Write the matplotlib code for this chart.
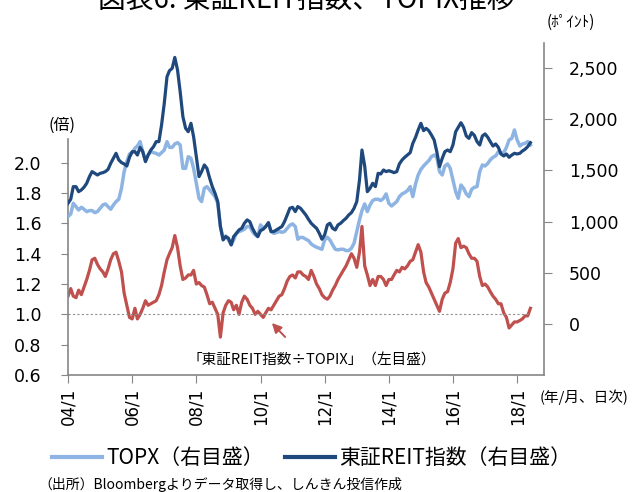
import pandas as pd
import matplotlib
matplotlib.use('Agg')
import matplotlib.pyplot as plt
from matplotlib.lines import Line2D

# monthly readings, Jan 2004 - Jun 2018
reit = [1178, 1218, 1341, 1341, 1292, 1309, 1335, 1374, 1439, 1488, 1471, 1455,
        1471, 1478, 1488, 1510, 1569, 1618, 1667, 1602, 1576, 1563, 1543, 1628,
        1683, 1683, 1650, 1725, 1683, 1585, 1650, 1699, 1732, 1781, 1781, 1943,
        2155, 2415, 2474, 2497, 2604, 2481, 2269, 2025, 1911, 1878, 1960, 1829,
        1634, 1439, 1488, 1553, 1520, 1423, 1341, 1276, 1195, 951, 820, 853,
        837, 772, 853, 885, 918, 934, 983, 1016, 999, 934, 885, 853,
        911, 925, 951, 990, 902, 902, 918, 934, 951, 999, 1064, 1130,
        1139, 1097, 1146, 1130, 1097, 1064, 1022, 983, 957, 934, 885, 827,
        869, 967, 983, 934, 918, 967, 983, 1009, 1032, 1064, 1087, 1130,
        1195, 1406, 1699, 1543, 1292, 1325, 1374, 1341, 1471, 1465, 1504, 1488,
        1497, 1488, 1478, 1488, 1563, 1602, 1628, 1650, 1673, 1764, 1823, 1895,
        1960, 1888, 1911, 1888, 1846, 1797, 1683, 1536, 1618, 1683, 1699, 1683,
        1748, 1878, 1921, 1966, 1921, 1836, 1813, 1869, 1842, 1781, 1748, 1836,
        1856, 1823, 1781, 1738, 1758, 1725, 1660, 1641, 1660, 1628, 1650, 1667,
        1660, 1667, 1689, 1706, 1732, 1771]

topix = [1048, 1074, 1178, 1146, 1113, 1139, 1120, 1097, 1107, 1107, 1087, 1097,
         1130, 1162, 1172, 1146, 1120, 1162, 1195, 1218, 1325, 1488, 1585, 1660,
         1673, 1716, 1738, 1781, 1683, 1595, 1650, 1683, 1673, 1667, 1650, 1673,
         1699, 1781, 1725, 1725, 1758, 1771, 1748, 1520, 1520, 1634, 1618, 1520,
         1374, 1227, 1195, 1325, 1341, 1309, 1276, 1243, 1178, 951, 837, 859,
         820, 772, 820, 885, 902, 911, 925, 951, 951, 902, 869, 853,
         967, 934, 951, 983, 902, 885, 892, 902, 895, 902, 934, 964,
         977, 951, 827, 846, 843, 827, 814, 781, 762, 749, 739, 729,
         820, 846, 820, 772, 729, 723, 729, 729, 716, 716, 739, 788,
         902, 1016, 1107, 1172, 1097, 1162, 1205, 1218, 1218, 1205, 1227, 1270,
         1178, 1152, 1172, 1195, 1243, 1270, 1283, 1302, 1341, 1243, 1367, 1455,
         1510, 1543, 1569, 1595, 1634, 1650, 1628, 1488, 1455, 1543, 1563, 1520,
         1406, 1292, 1227, 1357, 1325, 1270, 1243, 1315, 1335, 1341, 1488, 1553,
         1543, 1569, 1602, 1628, 1641, 1683, 1667, 1673, 1725, 1797, 1813, 1895,
         1797, 1738, 1758, 1764, 1781, 1748]

ratio = [1.12, 1.17, 1.12, 1.11, 1.16, 1.13, 1.18, 1.23, 1.29, 1.36, 1.37, 1.33,
         1.30, 1.28, 1.25, 1.30, 1.36, 1.40, 1.41, 1.35, 1.28, 1.14, 1.06, 0.98,
         0.97, 1.04, 0.97, 1.00, 1.04, 1.09, 1.06, 1.07, 1.08, 1.09, 1.13, 1.19,
         1.28, 1.36, 1.40, 1.44, 1.52, 1.44, 1.32, 1.23, 1.24, 1.26, 1.26, 1.29,
         1.20, 1.21, 1.19, 1.18, 1.13, 1.07, 1.08, 1.04, 1.00, 0.85, 1.01, 1.06,
         1.09, 1.08, 1.03, 1.06, 1.00, 1.08, 1.12, 1.10, 1.06, 1.04, 1.00, 1.02,
         1.00, 0.98, 1.01, 1.04, 1.03, 1.06, 1.09, 1.12, 1.13, 1.17, 1.22, 1.25,
         1.26, 1.24, 1.28, 1.28, 1.26, 1.25, 1.23, 1.29, 1.25, 1.20, 1.17, 1.13,
         1.11, 1.10, 1.12, 1.16, 1.19, 1.23, 1.26, 1.29, 1.32, 1.36, 1.40, 1.37,
         1.31, 1.41, 1.58, 1.32, 1.26, 1.19, 1.23, 1.19, 1.25, 1.25, 1.23, 1.19,
         1.23, 1.23, 1.26, 1.29, 1.28, 1.31, 1.30, 1.32, 1.35, 1.36, 1.41, 1.46,
         1.41, 1.28, 1.21, 1.18, 1.14, 1.10, 1.06, 1.02, 1.10, 1.14, 1.15, 1.21,
         1.30, 1.47, 1.50, 1.44, 1.45, 1.44, 1.40, 1.37, 1.37, 1.35, 1.25, 1.19,
         1.20, 1.18, 1.15, 1.12, 1.10, 1.07, 1.07, 1.01, 0.98, 0.91, 0.93, 0.95,
         0.95, 0.96, 0.97, 0.99, 0.99, 1.04]

dates = pd.date_range('2004-01-01', periods=len(reit), freq='MS')

tick_years = [2004, 2006, 2008, 2010, 2012, 2014, 2016, 2018]
tick_labels = ['04/1', '06/1', '08/1', '10/1', '12/1', '14/1', '16/1', '18/1']
left_ticks = [0.6, 0.8, 1.0, 1.2, 1.4, 1.6, 1.8, 2.0]
right_ticks = [0, 500, 1000, 1500, 2000, 2500]

c_topix = '#8db4e2'
c_reit = '#1f497d'
c_ratio = '#c0504d'
c_axis = '#868686'
jp = ['Noto Sans CJK JP', 'DejaVu Sans']

fig = plt.figure(figsize=(6.38, 4.92), dpi=100)
ax = fig.add_axes([0.1066, 0.2378, 0.7461, 0.6748])
ax2 = ax.twinx()

# ratio on the left scale
ax.plot(dates, ratio, color=c_ratio, linewidth=2.3, solid_joinstyle='round')
ax.hlines(1.0, dates[0], dates[-1], colors='#909090', linestyles=(0, (2, 2)),
          linewidth=0.8)

# indices on the right scale
ax2.plot(dates, topix, color=c_topix, linewidth=2.5, solid_joinstyle='round')
ax2.plot(dates, reit, color=c_reit, linewidth=2.3, solid_joinstyle='round')

ax.set_xlim(pd.Timestamp('2004-01-01'), pd.Timestamp('2018-11-03'))
ax.set_ylim(0.6, 2.79)
ax2.set_ylim(-500, 2745)

ax.set_xticks([pd.Timestamp(f'{y}-01-01') for y in tick_years])
ax.set_xticklabels(tick_labels, rotation=90, fontsize=12)
ax.set_yticks(left_ticks)
ax.set_yticklabels([f'{v:.1f}' for v in left_ticks], fontsize=12.5)
ax2.set_yticks(right_ticks)
ax2.set_yticklabels([f'{v:,}' for v in right_ticks], fontsize=12.5)

for a in (ax, ax2):
    for s in a.spines.values():
        s.set_color(c_axis)
        s.set_linewidth(1.2)
    a.spines['top'].set_visible(False)
ax.spines['right'].set_visible(False)
ax2.spines['left'].set_visible(False)
ax2.spines['bottom'].set_visible(False)
ax.spines['left'].set_bounds(0.6, 2.16)

ax.tick_params(axis='y', direction='out', length=5, color=c_axis, pad=14)
ax.tick_params(axis='x', direction='out', length=6, color=c_axis, pad=3)
ax2.tick_params(axis='y', direction='out', length=6, color=c_axis, pad=12)

# texts
fig.text(0.48, 1.0, '図表6. 東証REIT指数、TOPIX推移', family=jp, fontsize=20,
         ha='center', va='center')
fig.text(0.895, 1 - 22 / 492, '(ﾎﾟｲﾝﾄ)', family=jp, fontsize=11,
         ha='center', va='center')
fig.text(62 / 638, 1 - 125 / 492, '(倍)', family=jp, fontsize=11.5,
         ha='center', va='center')
fig.text(584 / 638, 1 - 397 / 492, '(年/月、日次)', family=jp, fontsize=10.5,
         ha='center', va='center')
fig.text(312 / 638, 1 - 361 / 492, '「東証REIT指数÷TOPIX」（左目盛）', family=jp,
         fontsize=10.5, ha='center', va='center')
fig.text(38 / 638, 1 - 484 / 492, '（出所）Bloombergよりデータ取得し、しんきん投信作成',
         family=jp, fontsize=10, ha='left', va='center')

ax.annotate('', xy=(270, 492 - 321), xycoords='figure pixels',
            xytext=(287, 492 - 339), textcoords='figure pixels',
            arrowprops=dict(arrowstyle='-|>', color=c_ratio, lw=1.4,
                            mutation_scale=14))

handles = [Line2D([], [], color=c_topix, linewidth=3),
           Line2D([], [], color=c_reit, linewidth=3)]
leg = fig.legend(handles, ['TOPX（右目盛）', '東証REIT指数（右目盛）'],
                 loc='center', bbox_to_anchor=(0.488, 1 - 458 / 492), ncol=2,
                 frameon=False, prop={'family': jp, 'size': 15},
                 handlelength=2.4, handletextpad=0.2, columnspacing=1.0)

fig.savefig('out.png', dpi=100)
